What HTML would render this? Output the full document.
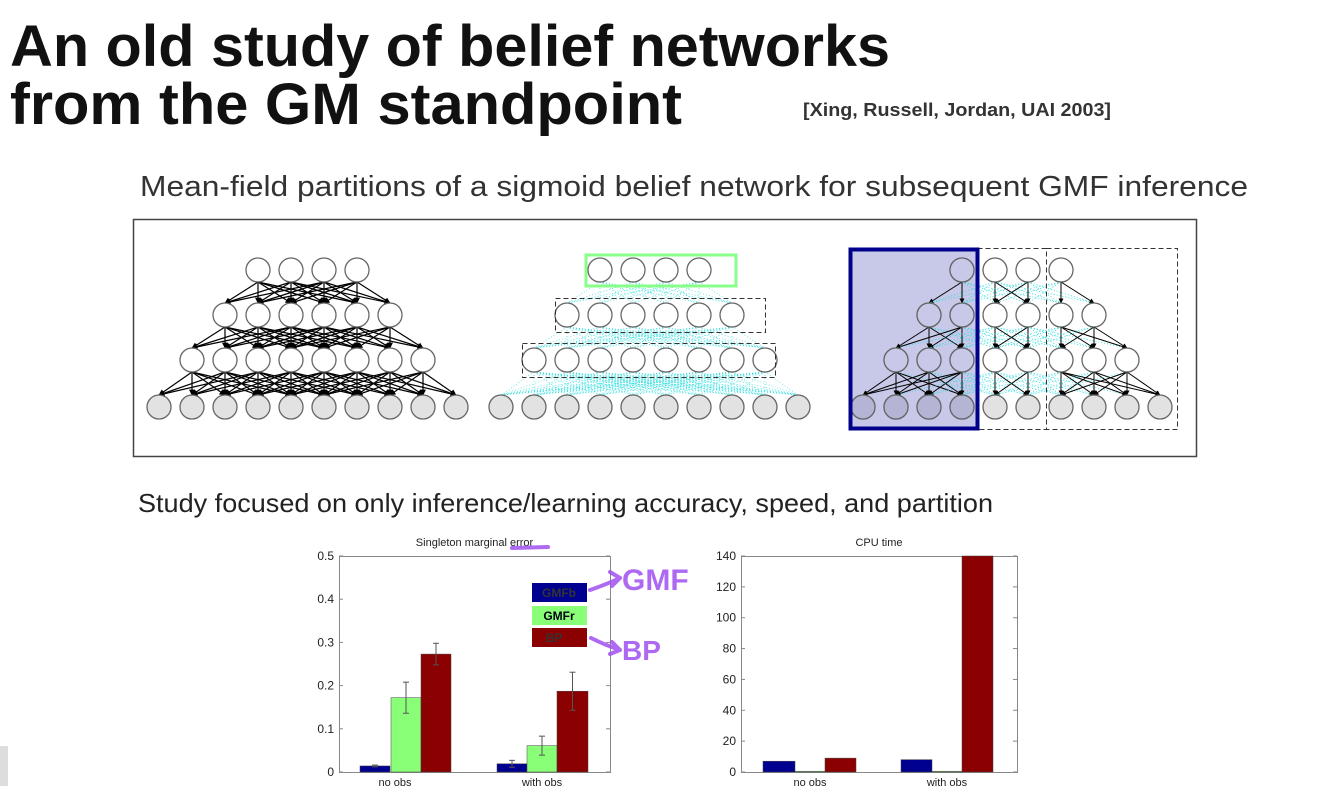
<!DOCTYPE html>
<html><head><meta charset="utf-8"><style>
body{margin:0;background:#fff;width:1322px;height:796px;overflow:hidden;font-family:"Liberation Sans",sans-serif}
</style></head><body>
<svg id="s" width="1322" height="796" xmlns="http://www.w3.org/2000/svg" font-family="Liberation Sans, sans-serif">
<defs><marker id="ah" viewBox="0 0 10 10" refX="9" refY="5" markerWidth="5" markerHeight="5" orient="auto"><path d="M0,0L10,5L0,10z" fill="#000"/></marker></defs>
<text x="10" y="66" font-size="50" font-weight="bold" fill="#111" textLength="880" lengthAdjust="spacingAndGlyphs" style="font-size:58px">An old study of belief networks</text>
<text x="10" y="124" font-weight="bold" fill="#111" textLength="672" lengthAdjust="spacingAndGlyphs" style="font-size:58px">from the GM standpoint</text>
<text x="803" y="116" font-size="18" font-weight="bold" fill="#333" textLength="308" lengthAdjust="spacingAndGlyphs">[Xing, Russell, Jordan, UAI 2003]</text>
<text x="140" y="196" font-size="29" fill="#333" textLength="1108" lengthAdjust="spacingAndGlyphs">Mean-field partitions of a sigmoid belief network for subsequent GMF inference</text>
<rect x="133.5" y="219.5" width="1063" height="237" fill="#fff" stroke="#444" stroke-width="1.5"/>
<rect x="850" y="249" width="127" height="180" fill="#c8c8e8"/>
<g id="net"></g>
<rect x="586" y="255" width="150" height="31" fill="none" stroke="#8f8" stroke-width="3"/>
<rect x="555.5" y="298.5" width="210" height="34" fill="none" stroke="#333" stroke-dasharray="5,3"/>
<rect x="522.5" y="343.5" width="253" height="34" fill="none" stroke="#333" stroke-dasharray="5,3"/>
<rect x="977.5" y="248.5" width="69" height="181" fill="none" stroke="#333" stroke-dasharray="5,3"/>
<rect x="1046.5" y="248.5" width="131" height="181" fill="none" stroke="#333" stroke-dasharray="5,3"/>
<rect x="850.5" y="249.5" width="127" height="179" fill="none" stroke="#00008b" stroke-width="4"/>
<text x="138" y="512" font-size="26" fill="#222" textLength="855" lengthAdjust="spacingAndGlyphs">Study focused on only inference/learning accuracy, speed, and partition</text>
<g id="ch"></g>
<rect x="0" y="746" width="8" height="40" fill="#ddd"/>
</svg>
<script>
const NS="http://www.w3.org/2000/svg";
function el(p,t,a){const e=document.createElementNS(NS,t);for(const k in a)e.setAttribute(k,a[k]);p.appendChild(e);return e}
const net=document.getElementById('net');
const ys=[270,315,360,407],r=12;
function rows(x0){return [4,6,8,10].map((n,i)=>{const s=x0-33*i;return Array.from({length:n},(_,j)=>s+33*j)})}
function edge(x1,y1,x2,y2,col,w){el(net,'line',{x1,y1:y1+r,x2,y2:y2-r,stroke:col,'stroke-width':w,'marker-end':col=='#000'?'url(#ah)':''})}
let R=rows(258);
for(let i=0;i<3;i++)for(const a of R[i])for(const b of R[i+1])if(Math.abs(a-b)<110)edge(a,ys[i],b,ys[i+1],'#000',1.2);
let R2=rows(600);
for(let i=0;i<3;i++)for(const a of R2[i])for(const b of R2[i+1])el(net,'line',{x1:a,y1:ys[i]+r,x2:b,y2:ys[i+1]-r,stroke:'#2dd',"stroke-width":0.6,"stroke-dasharray":"1,2"});
let R3=rows(962);
const blocks=[[850,977],[977,1046],[1046,1180]];
const bl=x=>blocks.findIndex(b=>x>=b[0]&&x<b[1]);
for(let i=0;i<3;i++)for(const a of R3[i])for(const b of R3[i+1]){if(Math.abs(a-b)>110)continue;
 if(bl(a)==bl(b))edge(a,ys[i],b,ys[i+1],'#000',1);else el(net,'line',{x1:a,y1:ys[i]+r,x2:b,y2:ys[i+1]-r,stroke:'#2dd',"stroke-width":0.8,"stroke-dasharray":"1,2"});}
for(const RR of [R,R2,R3])RR.forEach((row,i)=>row.forEach(x=>el(net,'circle',{cx:x,cy:ys[i],r,fill:i==3?'#e2e2e2':'#fff',stroke:'#666','stroke-width':1.3})));
for(const x of R3[3].slice(0,4)){el(net,'circle',{cx:x,cy:407,r,fill:'#b4b4d4',stroke:'#666','stroke-width':1.3})}
for(const x of R3[2].slice(0,3))el(net,'circle',{cx:x,cy:360,r,fill:'#c8c8e8',stroke:'#666','stroke-width':1.3});
for(const x of R3[1].slice(0,2))el(net,'circle',{cx:x,cy:315,r,fill:'#c8c8e8',stroke:'#666','stroke-width':1.3});
el(net,'circle',{cx:962,cy:270,r,fill:'#c8c8e8',stroke:'#666','stroke-width':1.3});
const ch=document.getElementById('ch');
function txt(x,y,s,sz,anc,fill,w){const t=el(ch,'text',{x,y,'font-size':sz,'text-anchor':anc||'start',fill:fill||'#222','font-weight':w||'normal'});t.textContent=s;return t}
function chart(x0,x1,y0,y1,max,step,labs,title,bars){
 el(ch,'rect',{x:x0+.5,y:y0+.5,width:x1-x0,height:y1-y0,fill:'#fff',stroke:'#888'});
 txt((x0+x1)/2,546,title,11,'middle');
 const n=Math.round(max/step);
 for(let i=0;i<=n;i++){const y=y1-(y1-y0)*i/n;txt(x0-5,y+4,labs(i),12,'end');el(ch,'line',{x1:x0,x2:x0+4,y1:y,y2:y,stroke:'#888'});el(ch,'line',{x1:x1-4,x2:x1,y1:y,y2:y,stroke:'#888'})}
 bars.forEach(b=>{const h=(y1-y0)*b[2]/max;el(ch,'rect',{x:b[0],y:y1-h,width:b[1]-b[0],height:h,fill:b[3],stroke:'#444','stroke-width':.5});
  if(b[4]){const c=(b[0]+b[1])/2,e=(y1-y0)*b[4]/max;el(ch,'line',{x1:c,x2:c,y1:y1-h-e,y2:y1-h+e,stroke:'#555'});el(ch,'line',{x1:c-3,x2:c+3,y1:y1-h-e,y2:y1-h-e,stroke:'#555'});el(ch,'line',{x1:c-3,x2:c+3,y1:y1-h+e,y2:y1-h+e,stroke:'#555'})}});
}
const B='#000090',G='#88ff77',Rd='#8b0000';
chart(339,610,556,772,0.5,0.1,i=>i==0?'0':(i/10).toFixed(1),'Singleton marginal error',[[360,390,.014,B,.002],[391,421,.172,G,.036],[421,451,.273,Rd,.025],[497,527,.019,B,.008],[527,557,.061,G,.022],[557,588,.187,Rd,.044]]);
txt(395,786,'no obs',11,'middle');txt(542,786,'with obs',11,'middle');
chart(741,1017,556,772,140,20,i=>String(i*20),'CPU time',[[763,795,7,B],[795,825,.5,G],[825,856,9,Rd],[901,932,8,B],[932,962,.5,G],[962,993,140,Rd]]);
txt(810,786,'no obs',11,'middle');txt(947,786,'with obs',11,'middle');
el(ch,'rect',{x:532,y:583,width:55,height:19,fill:B});txt(559,597,'GMFb',12,'middle','#333','bold');
el(ch,'rect',{x:532,y:606,width:55,height:19,fill:G});txt(559,620,'GMFr',12,'middle','#001','bold');
el(ch,'rect',{x:532,y:628,width:55,height:19,fill:Rd});txt(554,642,'BP',12,'middle','#333','bold');
const P='#a050f0';
const pa=d=>el(ch,'path',{d,fill:'none',stroke:P,'stroke-width':4,'stroke-linecap':'round','stroke-linejoin':'round',opacity:.85});
pa('M512,548 L548,547');
pa('M590,590 Q605,585 620,578 M610,572 L620,578 L612,586');
const g=txt(622,590,'GMF',30,'start',P,'bold');g.setAttribute('opacity','.85');
pa('M591,638 Q605,645 620,650 M612,642 L620,650 L610,654');
const b=txt(622,660,'BP',28,'start',P,'bold');b.setAttribute('opacity','.85');
</script>
</body></html>
